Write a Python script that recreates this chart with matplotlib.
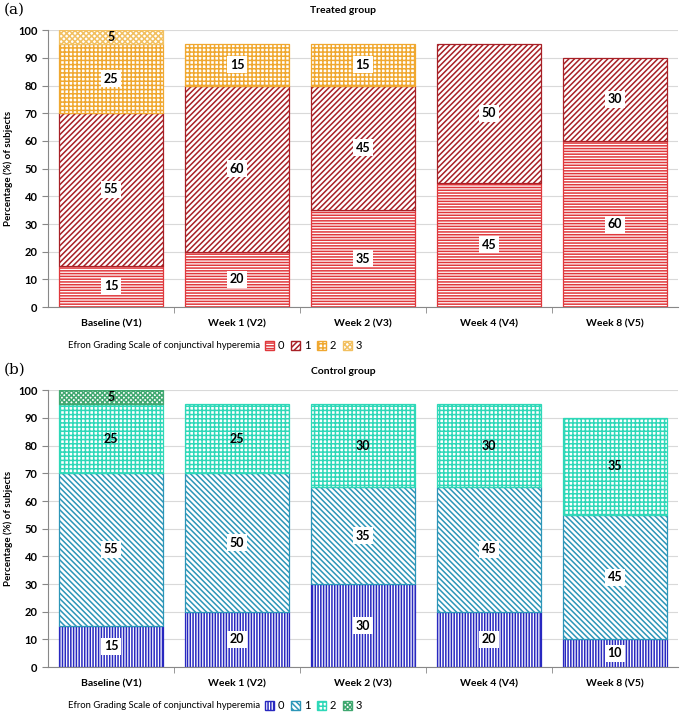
import numpy as np
import matplotlib.pyplot as plt
from matplotlib.patches import Patch

plt.rcParams['font.family'] = ['Lato', 'DejaVu Sans']
plt.rcParams['hatch.linewidth'] = 1.1

# Visits
visits = ['Baseline (V1)', 'Week 1 (V2)', 'Week 2 (V3)', 'Week 4 (V4)', 'Week 8 (V5)']
grades = ['0', '1', '2', '3']

# Treated group (% of subjects per Efron grade)
treated_0 = [15, 20, 35, 45, 60]
treated_1 = [55, 60, 45, 50, 30]
treated_2 = [25, 15, 15, 0, 0]
treated_3 = [5, 0, 0, 0, 0]

# Control group
control_0 = [15, 20, 30, 20, 10]
control_1 = [55, 50, 35, 45, 45]
control_2 = [25, 25, 30, 30, 35]
control_3 = [5, 0, 0, 0, 0]

treated_style = [('#E0383C', '------', True), ('#A82026', '//////', True),
                 ('#F0A830', '++++', True), ('#F2C060', 'xxxxxx', False)]
control_style = [('#2828C0', '||||||', True), ('#2C96B8', '\\\\\\\\\\\\', True),
                 ('#2ED8B8', '++++', False), ('#40A870', 'xxxxxxx', False)]

fig = plt.figure(figsize=(6.86, 7.15), dpi=100)
legend_label = 'Efron Grading Scale of conjunctival hyperemia'


def draw_panel(ax, series, styles, title, tag, ypos):
    x = np.arange(len(visits))
    bottom = np.zeros(len(visits))
    for vals, (col, hatch, boxed), g in zip(series, styles, grades):
        vals = np.array(vals, dtype=float)
        m = vals > 0
        ax.bar(x[m], vals[m], 0.83, bottom=bottom[m], facecolor='white', edgecolor=col,
               hatch=hatch, linewidth=0.9, label=g, zorder=2)
        for xi, v, b in zip(x, vals, bottom):
            if v <= 0:
                continue
            bb = dict(facecolor='white', edgecolor='none', pad=1.8) if boxed else None
            ax.text(xi, b + v / 2, f'{int(v)}', ha='center', va='center',
                    fontsize=9, fontweight='bold', bbox=bb, zorder=3)
        bottom += vals
    ax.set_xlim(-0.5, len(visits) - 0.5)
    ax.set_ylim(0, 100)
    ax.set_yticks(range(0, 101, 10))
    ax.set_xticks(x)
    ax.set_xticklabels(visits, fontsize=7.5, fontweight='bold')
    ax.set_xticks(np.arange(0.5, len(visits) - 1, 1), minor=True)
    ax.tick_params(axis='x', which='major', length=0, pad=9)
    ax.tick_params(axis='x', which='minor', length=4, color='#888888')
    ax.tick_params(axis='y', labelsize=8, length=4, color='#888888')
    for lab in ax.get_yticklabels():
        lab.set_fontweight('bold')
    ax.grid(axis='y', color='#D9D9D9', linewidth=0.8, zorder=0)
    ax.set_axisbelow(True)
    for s in ['top', 'right']:
        ax.spines[s].set_visible(False)
    ax.spines['left'].set_color('#888888')
    ax.spines['bottom'].set_color('#888888')
    ax.set_ylabel('Percentage (%) of subjects', fontsize=7, fontweight='bold')
    fig.text(0.5, ypos, title, ha='center', va='center', fontsize=7.5, fontweight='bold')
    fig.text(0.005, ypos + 0.002, tag, ha='left', va='center', fontsize=11, family='DejaVu Serif')

    # legend: caption text followed by the hatch swatches
    cap = ax.text(0.032, -0.14, legend_label, transform=ax.transAxes,
                  ha='left', va='center', fontsize=6.8)
    fig.canvas.draw()
    ext = cap.get_window_extent().transformed(ax.transAxes.inverted())
    handles = [Patch(facecolor='white', edgecolor=c, hatch=h, label=g)
               for (c, h, _), g in zip(styles, grades)]
    ax.legend(handles=handles, ncol=4, loc='center left',
              bbox_to_anchor=(ext.x1 - 0.005, -0.14), frameon=False, fontsize=8,
              handlelength=0.85, handleheight=0.85, handletextpad=0.3,
              columnspacing=0.6, borderpad=0.2)


ax1 = fig.add_axes([0.07, 0.5706, 0.918, 0.387])
draw_panel(ax1, [treated_0, treated_1, treated_2, treated_3], treated_style,
           'Treated group', '(a)', 0.985)
ax2 = fig.add_axes([0.07, 0.0671, 0.918, 0.387])
draw_panel(ax2, [control_0, control_1, control_2, control_3], control_style,
           'Control group', '(b)', 0.481)

fig.savefig('out.png', dpi=100)
